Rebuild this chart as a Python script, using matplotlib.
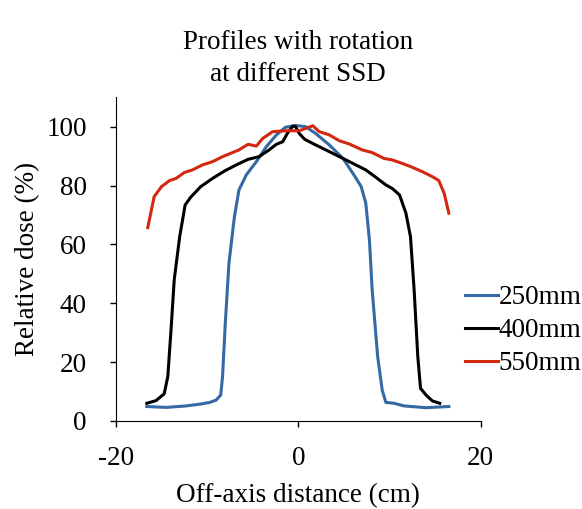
import matplotlib.pyplot as plt

plt.rcParams['font.family'] = ['Liberation Serif', 'DejaVu Serif']
plt.rcParams['axes.unicode_minus'] = False

# off-axis distance (cm) and relative dose (%)
x_250 = [-16.6, -14.5, -12.3, -10.8, -9.7, -9.0, -8.5, -8.3, -8.0, -7.6, -7.0, -6.5, -5.7,
         -4.6, -3.5, -2.4, -1.4, -0.3, 0.8, 1.9, 3.4, 4.9, 6.1, 6.9, 7.4, 7.8, 8.1, 8.7,
         9.2, 9.6, 10.5, 11.6, 14.0, 16.5]
dose_250 = [4.9, 4.6, 5.1, 5.7, 6.3, 7.1, 8.8, 15.1, 33.2, 53.6, 69.4, 78.5, 83.6,
            88.1, 93.2, 97.2, 99.8, 100.4, 100.0, 97.7, 93.8, 89.2, 83.6, 79.6, 74.0, 61.5, 44.5, 21.9,
            10.5, 6.3, 6.0, 5.1, 4.5, 4.9]

x_400 = [-16.6, -15.6, -14.7, -14.3, -13.9, -13.6, -13.0, -12.4, -11.8, -10.7, -9.4, -8.1,
         -6.8, -5.5, -4.3, -3.2, -2.4, -1.7, -1.2, -0.6, -0.3, 0.1, 0.7, 1.9, 3.8, 5.6, 7.4,
         8.5, 9.6, 10.3, 11.1, 11.8, 12.3, 12.7, 13.1, 13.4, 14.0, 14.7, 15.5]
dose_400 = [6.0, 6.9, 9.2, 15.1, 33.2, 47.9, 62.6, 73.4, 76.0, 79.6, 82.4, 84.9,
            87.0, 88.9, 89.8, 92.1, 94.0, 94.9, 97.7, 100.2, 100.0, 97.7, 95.7, 93.8, 90.9, 88.1, 85.3,
            82.8, 80.2, 79.0, 76.8, 70.6, 62.6, 44.5, 21.9, 11.1, 8.8, 6.8, 6.0]

x_550 = [-16.5, -15.8, -15.0, -14.1, -13.4, -12.5, -11.6, -10.5, -9.4, -8.3, -7.2, -6.5,
         -5.5, -4.6, -3.9, -2.8, -1.4, 0.1, 0.8, 1.6, 2.3, 3.4, 4.5, 5.6, 7.0, 8.1, 9.4,
         10.3, 11.4, 12.5, 13.6, 14.7, 15.4, 16.0, 16.5]
dose_550 = [65.7, 76.2, 79.6, 81.7, 82.4, 84.4, 85.3, 87.0, 88.1, 89.8, 91.2, 92.1,
            94.0, 93.4, 96.0, 98.3, 98.6, 98.6, 99.4, 100.3, 98.3, 97.2, 95.2, 94.1, 92.1, 91.2, 89.2,
            88.7, 87.5, 86.2, 84.7, 83.0, 81.7, 77.3, 70.6]

fig = plt.figure(figsize=(5.82, 5.09), dpi=100)
ax = fig.add_axes([0.199, 0.173, 0.627, 0.636])

ax.plot(x_250, dose_250, color='#3469A3', lw=2.2, label='250mm')
ax.plot(x_400, dose_400, color='black', lw=2.2, label='400mm')
ax.plot(x_550, dose_550, color='#D3280F', lw=2.2, label='550mm')

ax.set_xlim(-20, 20)
ax.set_ylim(0, 110)
ax.set_xticks([-20, 0, 20])
ax.set_yticks([0, 20, 40, 60, 80, 100])
ax.spines['top'].set_visible(False)
ax.spines['right'].set_visible(False)
ax.tick_params(direction='out', length=4, width=1, labelsize=19.5)
ax.tick_params(axis='y', pad=17)
ax.tick_params(axis='x', pad=14)

ax.set_xlabel('Off-axis distance (cm)', fontsize=19.5, labelpad=9)
ax.set_ylabel('Relative dose (%)', fontsize=19.5, labelpad=4)
ax.set_title('Profiles with rotation\nat different SSD', fontsize=19.5, pad=12, linespacing=1.35)

ax.legend(loc='center left', bbox_to_anchor=(0.799, 0.35), bbox_transform=fig.transFigure,
          frameon=False, fontsize=19.5, handlelength=1.2, handletextpad=0.05, labelspacing=0.3,
          borderpad=0, borderaxespad=0)

fig.savefig('out.png', dpi=100)
